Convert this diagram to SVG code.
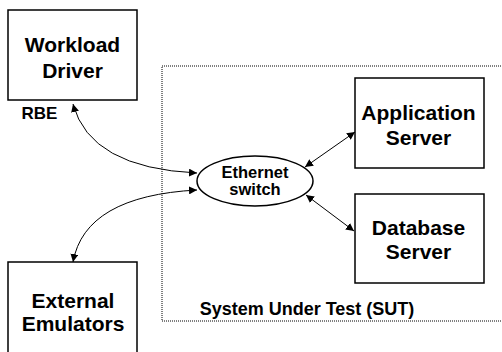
<svg xmlns="http://www.w3.org/2000/svg" width="502" height="352" viewBox="0 0 502 352">
<style>
.box{fill:#fff;stroke:#000;stroke-width:1.5}
.t{font-family:"Liberation Sans",Arial,sans-serif;font-weight:bold;fill:#000;text-anchor:middle}
.big{font-size:21px}
.mid{font-size:16.5px}
.c{fill:none;stroke:#000;stroke-width:1}
</style>
<defs>
<marker id="ah" viewBox="0 0 10 10" refX="10" refY="5" markerWidth="8" markerHeight="8" markerUnits="userSpaceOnUse" orient="auto-start-reverse">
<path d="M0,0 L10,5 L0,10 z" fill="#000"/>
</marker>
</defs>
<rect width="502" height="352" fill="#fff"/>
<g id="sut">
<rect x="162" y="66" width="345" height="255" fill="none" stroke="#000" stroke-width="1" stroke-dasharray="1,1"/>
<text class="t" font-size="18" x="307" y="315">System Under Test (SUT)</text>
</g>
<g id="connectors">
<path class="c" d="M73,104 Q90,168 197,173" marker-start="url(#ah)" marker-end="url(#ah)"/>
<path class="c" d="M73,262 Q85,196 197,190" marker-start="url(#ah)" marker-end="url(#ah)"/>
<path class="c" d="M305,167 L355,132" marker-start="url(#ah)" marker-end="url(#ah)"/>
<path class="c" d="M306,195 L354,231" marker-start="url(#ah)" marker-end="url(#ah)"/>
</g>
<g id="workload-driver">
<rect class="box" x="8" y="10" width="129" height="90"/>
<text class="t big" x="72.5" y="52">Workload</text>
<text class="t big" x="72.5" y="78">Driver</text>
</g>
<g id="rbe">
<text class="t" font-size="17" style="text-anchor:start" x="21.5" y="119">RBE</text>
</g>
<g id="ethernet-switch">
<ellipse cx="255" cy="181" rx="58" ry="25" fill="#fff" stroke="#000" stroke-width="1.5"/>
<text class="t mid" x="255" y="177.5">Ethernet</text>
<text class="t mid" x="255" y="195">switch</text>
</g>
<g id="application-server">
<rect class="box" x="355" y="78" width="129" height="90"/>
<text class="t big" x="418.5" y="120">Application</text>
<text class="t big" x="418.5" y="145">Server</text>
</g>
<g id="database-server">
<rect class="box" x="355" y="194" width="129" height="89"/>
<text class="t big" x="418.5" y="235">Database</text>
<text class="t big" x="418.5" y="259">Server</text>
</g>
<g id="external-emulators">
<rect class="box" x="8" y="262" width="129" height="100"/>
<text class="t big" x="73" y="308">External</text>
<text class="t big" x="73" y="331">Emulators</text>
</g>
</svg>
